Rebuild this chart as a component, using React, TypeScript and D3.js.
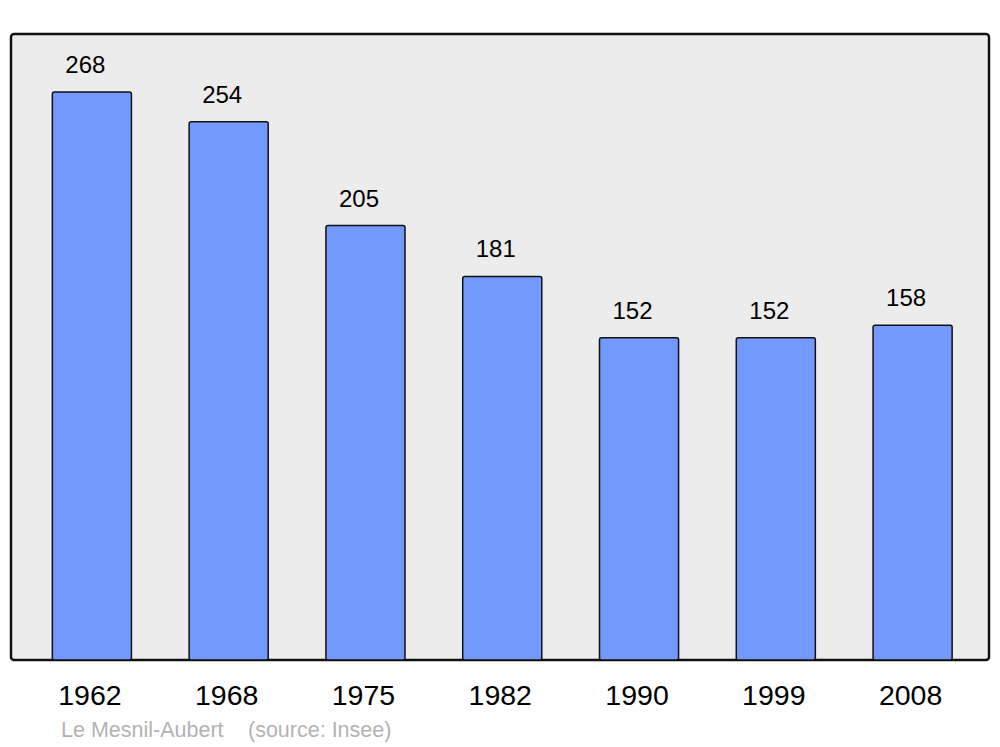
import React from "react";
import * as d3 from "d3";

const years = ["1962", "1968", "1975", "1982", "1990", "1999", "2008"];
const populations = [268, 254, 205, 181, 152, 152, 158];
const title = "Le Mesnil-Aubert";
const source = "(source: Insee)";

export default function App() {
  const W = 1000, H = 747;
  const panel = { x: 11, y: 34, w: 978, h: 626 };
  const x = d3.scaleBand<string>().domain(years).range([23.5, 981]).paddingInner(0.422).paddingOuter(0.211);
  const yMax = 268 * (panel.h / 568);
  const y = d3.scaleLinear().domain([0, yMax]).range([panel.y + panel.h, panel.y]);
  const font = "'Liberation Sans', Arial, sans-serif";
  return (
    <svg width={W} height={H} style={{ position: "absolute", left: 0, top: 0, background: "#fff" }} fontFamily={font}>
      <rect x={panel.x} y={panel.y} width={panel.w} height={panel.h} rx={3} fill="#ececec" stroke="#111" strokeWidth={2.5} />
      {years.map((yr, i) => {
        const v = populations[i];
        const bx = x(yr)!;
        const bw = x.bandwidth();
        const top = y(v);
        return (
          <g key={yr}>
            <rect x={bx} y={top} width={bw} height={y(0) - top} rx={2} fill="#7399ff" stroke="#111" strokeWidth={1.5} />
            <text x={bx + bw / 2 - 6.5} y={top - 19} textAnchor="middle" fontSize={24} fill="#000">{v}</text>
            <text x={bx + bw / 2 - 2} y={705} textAnchor="middle" fontSize={28.5} fill="#000">{yr}</text>
          </g>
        );
      })}
      <text x={61} y={737} fontSize={21.5} fill="#b3b3b3">{title}</text>
      <text x={248} y={737} fontSize={21.5} fill="#b3b3b3">{source}</text>
    </svg>
  );
}
